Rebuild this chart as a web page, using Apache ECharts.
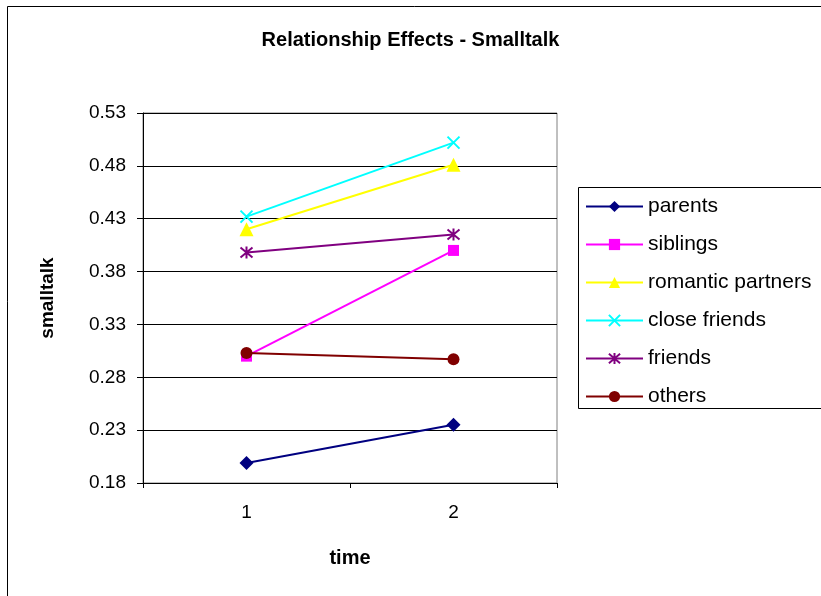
<!DOCTYPE html>
<html><head><meta charset="utf-8">
<script src="https://cdn.jsdelivr.net/npm/echarts@6/dist/echarts.min.js"></script>
<style>html,body{margin:0;padding:0;background:#fff}#c{width:821px;height:596px}</style>
</head><body><div id="c"></div>
<script>
const categories = ['1', '2'];
const parents = [0.199, 0.235];
const siblings = [0.300, 0.400];
const romanticPartners = [0.420, 0.481];
const closeFriends = [0.432, 0.502];
const friends = [0.398, 0.415];
const others = [0.303, 0.297];
const yTicks = [0.18, 0.23, 0.28, 0.33, 0.38, 0.43, 0.48, 0.53];

const FONT = '"Liberation Sans", Arial, sans-serif';
const crossPath = 'path://M0,0 L10,10 M10,0 L0,10';
const starPath = 'path://M0,0 L10,10 M10,0 L0,10 M5,-1 L5,11';

function mk(name, data, color, symbol, size, isStroke) {
  return {
    name: name, type: 'line', data: data, symbol: symbol, symbolSize: size,
    lineStyle: { color: color, width: 2 },
    itemStyle: { color: color, borderColor: color, borderWidth: isStroke ? 2 : 0 },
    emphasis: { disabled: true }, animation: false, z: 3
  };
}

const chart = echarts.init(document.getElementById('c'), null, { renderer: 'canvas' });
chart.setOption({
  animation: false,
  backgroundColor: '#fff',
  title: {
    text: 'Relationship Effects - Smalltalk', left: 'center', top: 30, padding: 0,
    textStyle: { fontFamily: FONT, fontSize: 20, fontWeight: 'bold', color: '#000' }
  },
  graphic: [
    { type: 'rect', shape: { x: 7.5, y: 6.5, width: 900, height: 700 }, style: { fill: 'none', stroke: '#000', lineWidth: 1 }, z: 0 },
    { type: 'rect', shape: { x: 578.5, y: 187.5, width: 400, height: 221 }, style: { fill: '#fff', stroke: '#000', lineWidth: 1 }, z: 1 }
  ],
  legend: {
    orient: 'vertical', left: 585, top: 196, padding: 0, itemWidth: 57, itemHeight: 14, itemGap: 17,
    textStyle: { fontFamily: FONT, fontSize: 21, lineHeight: 21, color: '#000' },
    selectedMode: false, z: 5
  },
  grid: { left: 143, top: 113, width: 414, height: 370, show: true, borderColor: '#808080', borderWidth: 1, backgroundColor: 'transparent' },
  xAxis: {
    type: 'category', data: categories, boundaryGap: true,
    name: 'time', nameLocation: 'middle', nameGap: 65,
    nameTextStyle: { fontFamily: FONT, fontSize: 20, fontWeight: 'bold', color: '#000' },
    axisLine: { lineStyle: { color: '#000', width: 1 } },
    axisTick: { show: true, length: 5, lineStyle: { color: '#000' } },
    axisLabel: { fontFamily: FONT, fontSize: 19, color: '#000', margin: 20 }
  },
  yAxis: {
    type: 'value', min: yTicks[0], max: yTicks[yTicks.length - 1], interval: 0.05,
    name: 'smalltalk', nameLocation: 'middle', nameGap: 86,
    nameTextStyle: { fontFamily: FONT, fontSize: 19, fontWeight: 'bold', color: '#000' },
    axisLine: { show: true, lineStyle: { color: '#000', width: 1 } },
    axisTick: { show: true, length: 6, lineStyle: { color: '#000' } },
    splitLine: { show: true, lineStyle: { color: '#000', width: 1 } },
    axisLabel: { fontFamily: FONT, fontSize: 19, color: '#000', margin: 17, formatter: v => v.toFixed(2) }
  },
  series: [
    mk('parents', parents, '#000080', 'diamond', 14, false),
    mk('siblings', siblings, '#FF00FF', 'rect', 11, false),
    mk('romantic partners', romanticPartners, '#FFFF00', 'triangle', 14, false),
    mk('close friends', closeFriends, '#00FFFF', crossPath, 12, true),
    mk('friends', friends, '#800080', starPath, 12, true),
    mk('others', others, '#800000', 'circle', 12, false)
  ]
});
</script></body></html>
